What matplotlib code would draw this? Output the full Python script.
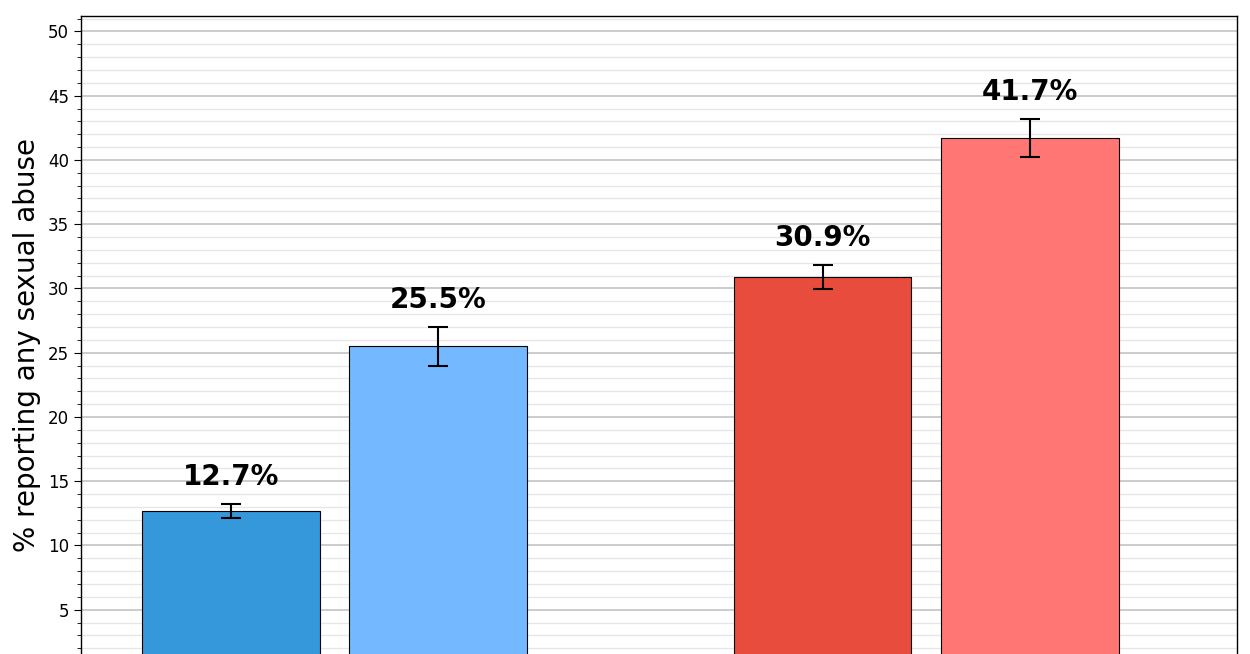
import matplotlib
matplotlib.use("Agg")
import matplotlib.pyplot as plt
from matplotlib.ticker import MultipleLocator, FuncFormatter

# Data
groups = ["Group A", "Group B"]
series = ["Series 1", "Series 2"]
values = [[12.7, 25.5], [30.9, 41.7]]
errors = [[0.55, 1.5], [0.95, 1.5]]
colors = [["#3498db", "#74b9ff"], ["#e74c3c", "#ff7675"]]
ylabel = "% reporting any sexual abuse"

fig = plt.figure(figsize=(12.5, 6.54), dpi=100)
ax = fig.add_axes([81 / 1250, -20 / 654, (1237 - 81) / 1250, (674 - 16) / 654])

width = 0.3
offsets = [-0.175, 0.175]
for gi, g in enumerate(groups):
    for si, s in enumerate(series):
        x = gi + offsets[si]
        v = values[gi][si]
        e = errors[gi][si]
        ax.bar(x, v, width, color=colors[gi][si], edgecolor="black", linewidth=0.8,
               yerr=e, capsize=7.5, error_kw=dict(elinewidth=1.5, capthick=1.5, ecolor="black"),
               zorder=3)
        ax.text(x, v + e + 1.0, f"{v:.1f}%", ha="center", va="bottom",
                fontsize=20, fontweight="bold", zorder=4)

ax.set_xlim(-0.428, 1.525)
ax.set_ylim(0, 51.2)
ax.yaxis.set_major_locator(MultipleLocator(5))
ax.yaxis.set_minor_locator(MultipleLocator(1))
ax.yaxis.set_major_formatter(FuncFormatter(lambda v, p: "" if v < 1 else f"{v:g}"))
ax.grid(which="major", axis="y", color="#c8c8c8", linewidth=1.3, zorder=0)
ax.grid(which="minor", axis="y", color="#e6e6e6", linewidth=0.9, zorder=0)
ax.set_axisbelow(True)
ax.tick_params(axis="y", which="major", labelsize=12, length=5)
ax.tick_params(axis="y", which="minor", length=3)
ax.set_xticks([0, 1])
ax.set_xticklabels([])
ax.tick_params(axis="x", length=0)
ax.set_ylabel(ylabel, fontsize=20, labelpad=5)
for sp in ax.spines.values():
    sp.set_color("black")
    sp.set_linewidth(1.0)

fig.savefig("out.png", dpi=100)
